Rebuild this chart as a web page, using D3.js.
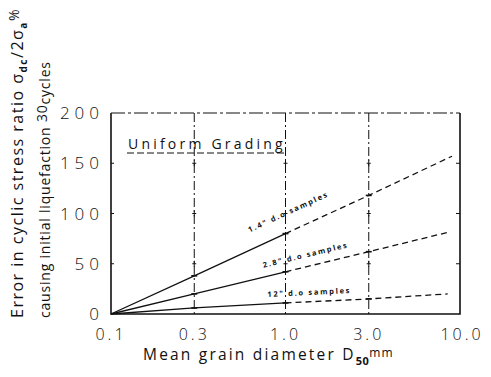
<!DOCTYPE html>
<html>
<head>
<meta charset="utf-8">
<script src="https://cdn.jsdelivr.net/npm/d3@7"></script>
<style>
  html, body { margin: 0; padding: 0; background: #fff; }
  svg { display: block; }
  text { font-family: "Open Sans", "DejaVu Sans", sans-serif; fill: #111; }
</style>
</head>
<body>
<svg id="chart" width="491" height="377"></svg>
<script>
// Mean grain diameter D50 (mm) at which the curves are read
const diameters = [0.1, 0.3, 1.0, 3.0];
// Error in cyclic stress ratio (%) for each sample diameter
const series14 = [0, 38, 80, 118];
const series28 = [0, 20, 42, 62];
const series12 = [0, 6, 11, 15];
// Right-hand ends of the extrapolated (dashed) parts
const ends = [
  { name: "1.4", x: 9.0, y: 157 },
  { name: "2.8", x: 8.4, y: 81 },
  { name: "12", x: 8.5, y: 20 }
];
const seriesLabels = ['1.4" d.o samples', '2.8" d.o samples', '12" d.o samples'];
const xTicks = [0.1, 0.3, 1.0, 3.0, 10.0];
const xTickLabels = ["0.1", "0.3", "1.0", "3.0", "10.0"];
const yTicks = [0, 50, 100, 150, 200];
const gridX = [0.3, 1.0, 3.0];

const svg = d3.select("#chart");
const m = { left: 111, right: 460, top: 113, bottom: 314 };

const x = d3.scaleLog().domain([0.1, 10]).range([m.left, m.right]);
const y = d3.scaleLinear().domain([0, 200]).range([m.bottom, m.top]);

const ink = "#111";

// Vertical dash-dot grid lines
svg.selectAll(".grid").data(gridX).join("line")
  .attr("x1", d => x(d)).attr("x2", d => x(d))
  .attr("y1", m.top).attr("y2", m.bottom)
  .attr("stroke", ink).attr("stroke-width", 1)
  .attr("stroke-dasharray", "9,3,2,3");

// Frame: solid left, bottom and right; dash-dot top
svg.append("path")
  .attr("d", `M${m.left},${m.top}V${m.bottom}H${m.right}V${m.top}`)
  .attr("fill", "none").attr("stroke", ink).attr("stroke-width", 1.6);
svg.append("line")
  .attr("x1", m.left).attr("x2", m.right).attr("y1", m.top).attr("y2", m.top)
  .attr("stroke", ink).attr("stroke-width", 1.2)
  .attr("stroke-dasharray", "14,3,3,3");

// Small cross marks where grid lines meet the value levels
const crosses = [];
gridX.forEach(g => [50, 100, 150].forEach(v => crosses.push([g, v])));
svg.selectAll(".cross").data(crosses).join("path")
  .attr("d", d => `M${x(d[0]) - 2},${y(d[1])}h4M${x(d[0])},${y(d[1]) - 3}v6`)
  .attr("stroke", ink).attr("stroke-width", 1);
// Ticks on the side edges
svg.selectAll(".rtick").data([50, 100, 150]).join("path")
  .attr("d", d => `M${m.right - 4},${y(d)}h4M${m.left},${y(d)}h3`)
  .attr("stroke", ink).attr("stroke-width", 1);

// Y tick labels
svg.selectAll(".ylab").data(yTicks).join("text")
  .attr("x", 104).attr("y", d => y(d)).attr("dy", "0.36em")
  .attr("text-anchor", "end")
  .style("font-size", "17px").style("font-weight", 300).style("letter-spacing", "5px")
  .text(d => d);

// X tick labels
svg.selectAll(".xlab").data(xTicks).join("text")
  .attr("x", (d, i) => x(d) + (i === 4 ? 2 : 0)).attr("y", 340)
  .attr("text-anchor", "middle")
  .style("font-size", "16px").style("font-weight", 300).style("letter-spacing", "3px")
  .text((d, i) => xTickLabels[i]);

// X axis title
const xt = svg.append("text").attr("x", 143).attr("y", 360)
  .style("font-size", "15.5px").style("letter-spacing", "2.2px");
xt.append("tspan").text("Mean grain diameter D");
xt.append("tspan").attr("dy", 5).style("font-size", "11px").style("font-weight", 700).style("letter-spacing", "0.5px").text("50");
xt.append("tspan").attr("dy", -8).style("font-size", "12px").style("letter-spacing", "1px").text("mm");

// Y axis title (two rotated lines)
const yt1 = svg.append("text")
  .attr("transform", "translate(23,318) rotate(-90)")
  .style("font-size", "16px").style("letter-spacing", "1.5px");
yt1.append("tspan").text("Error in cyclic stress ratio σ");
yt1.append("tspan").attr("dy", 4).style("font-size", "10px").style("font-weight", 700).text("dc");
yt1.append("tspan").attr("dy", -4).text("/2σ");
yt1.append("tspan").attr("dy", 4).style("font-size", "10px").style("font-weight", 700).text("a");
yt1.append("tspan").attr("dy", -8).style("font-size", "14px").text("%");

const yt2 = svg.append("text")
  .attr("transform", "translate(50,318) rotate(-90)")
  .style("font-size", "14px").style("letter-spacing", "0.8px");
yt2.append("tspan").text("causing initial liquefaction ");
yt2.append("tspan").attr("dy", -3).text("30");
yt2.append("tspan").attr("dy", 3).text("cycles");

// Curves: solid over the measured range, dashed beyond 1.0 mm
const line = d3.line().x(d => x(d[0])).y(d => y(d[1]));
const allSeries = [series14, series28, series12];
allSeries.forEach((vals, i) => {
  const pts = diameters.map((d, j) => [d, vals[j]]);
  const solid = pts.filter(p => p[0] <= 1.0);
  const dashed = pts.filter(p => p[0] >= 1.0).concat([[ends[i].x, ends[i].y]]);
  svg.append("path").attr("d", line(solid))
    .attr("fill", "none").attr("stroke", ink).attr("stroke-width", 1.3);
  svg.append("path").attr("d", line(dashed))
    .attr("fill", "none").attr("stroke", ink).attr("stroke-width", 1.3)
    .attr("stroke-dasharray", "6,4");
  // Small marks on the measured points
  svg.selectAll(null).data(pts.slice(1)).join("path")
    .attr("d", p => `M${x(p[0]) - 3},${y(p[1])}h6`)
    .attr("stroke", ink).attr("stroke-width", 1.6);
});

// Rotated series labels laid along each curve
const labelOffsets = [
  { dx: -36, dy: 3 },
  { dx: -22, dy: 0 },
  { dx: -18, dy: -2 }
];
allSeries.forEach((vals, i) => {
  const p1 = [x(1.0), y(vals[2])], p2 = [x(3.0), y(vals[3])];
  const ang = Math.atan2(p2[1] - p1[1], p2[0] - p1[0]) * 180 / Math.PI;
  svg.append("text")
    .attr("transform", `translate(${p1[0] + labelOffsets[i].dx},${p1[1] + labelOffsets[i].dy - 4}) rotate(${ang})`)
    .style("font-size", "7.5px").style("font-weight", 700).style("letter-spacing", "1.7px")
    .text(seriesLabels[i]);
});

// Uniform Grading heading with dashed underline
svg.append("text").attr("x", 128).attr("y", 149)
  .style("font-size", "14px").style("letter-spacing", "3.2px")
  .text("Uniform Grading");
svg.append("line").attr("x1", 127).attr("x2", 286).attr("y1", 153).attr("y2", 153)
  .attr("stroke", ink).attr("stroke-width", 1).attr("stroke-dasharray", "7,3");
</script>
</body>
</html>
